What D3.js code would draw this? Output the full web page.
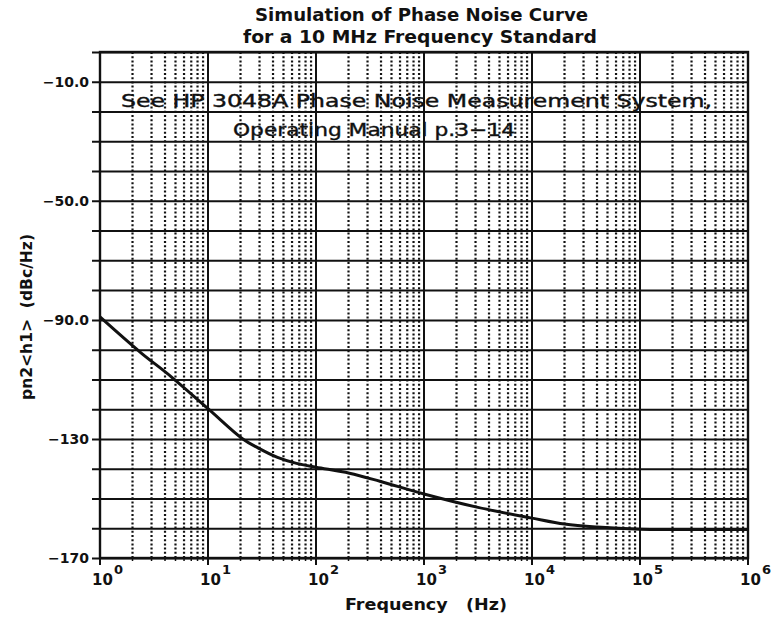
<!DOCTYPE html>
<html>
<head>
<meta charset="utf-8">
<script src="https://cdn.jsdelivr.net/npm/d3@7"></script>
<style>
  body { margin: 0; background: #fff; }
  svg text { font-family: "DejaVu Sans", sans-serif; font-weight: bold; fill: #111; }
  svg text.note { font-weight: normal; stroke: #111; stroke-width: 0.4; }
</style>
</head>
<body>
<div id="chart"></div>
<script>
// data
let freqs = [1, 2.35, 4.6, 10, 21, 29, 44, 66, 100, 204, 390, 1000, 3160, 10000, 20000, 40000, 100000, 1000000];
let noise = [-89, -100.8, -109.2, -119.8, -130, -133, -136.2, -138.2, -139.5, -141.5, -144.2, -148.5, -153, -156.6, -158.6, -159.6, -160.3, -160.4];

let yTickValues = [-10, -50, -90, -130, -170];
let yTickLabels = ["\u221210.0", "\u221250.0", "\u221290.0", "\u2212130", "\u2212170"];
let decades = [0, 1, 2, 3, 4, 5, 6];

let titleLines = ["Simulation of Phase Noise Curve", "for a 10 MHz Frequency Standard"];
let noteLines = ["See HP 3048A Phase Noise Measurement System,", "Operating Manual p.3\u221214"];

let svgWidth = 772;
let svgHeight = 621;
let margin = { top: 52, right: 24, bottom: 63, left: 100 };
let width = svgWidth - margin.left - margin.right;
let height = svgHeight - margin.top - margin.bottom;

let svg = d3.select("#chart")
  .append("svg")
  .attr("width", svgWidth)
  .attr("height", svgHeight);

let chartGroup = svg.append("g")
  .attr("transform", `translate(${margin.left}, ${margin.top})`);

let x = d3.scaleLog().domain([1, 1e6]).range([0, width]);
let y = d3.scaleLinear().domain([0, -170]).range([0, height]);

// minor (dotted) verticals at 2..9 in each decade
let minor = [];
decades.slice(0, -1).forEach(function(e) {
  for (let m = 2; m <= 9; m++) minor.push(m * Math.pow(10, e));
});

chartGroup.append("g")
  .selectAll("line")
  .data(minor)
  .enter()
  .append("line")
  .attr("x1", d => x(d))
  .attr("x2", d => x(d))
  .attr("y1", 0)
  .attr("y2", height)
  .attr("stroke", "#111")
  .attr("stroke-width", 2.2)
  .attr("stroke-dasharray", "2,2.2");

// horizontal grid every 10 dB, with outward ticks
let leftAxis = d3.axisLeft(y)
  .tickValues(d3.range(0, -171, -10))
  .tickSize(8)
  .tickFormat(d => {
    let i = yTickValues.indexOf(d);
    return i >= 0 ? yTickLabels[i] : "";
  });

let yAxisG = chartGroup.append("g").call(leftAxis);
yAxisG.select(".domain").remove();
yAxisG.selectAll(".tick line")
  .attr("stroke", "#111")
  .attr("stroke-width", 2)
  .attr("x2", width)
  .attr("x1", -8);
yAxisG.selectAll(".tick text")
  .attr("x", -11)
  .attr("font-size", 14)
  .attr("font-family", "DejaVu Sans")
  .attr("font-weight", "bold")
  .attr("fill", "#111");

// decade verticals
chartGroup.append("g")
  .selectAll("line")
  .data(decades)
  .enter()
  .append("line")
  .attr("x1", d => x(Math.pow(10, d)))
  .attr("x2", d => x(Math.pow(10, d)))
  .attr("y1", 0)
  .attr("y2", height + 7)
  .attr("stroke", "#111")
  .attr("stroke-width", 2);

// small ticks under bottom axis at minors
chartGroup.append("g")
  .selectAll("line")
  .data(minor)
  .enter()
  .append("line")
  .attr("x1", d => x(d))
  .attr("x2", d => x(d))
  .attr("y1", height)
  .attr("y2", height + 3)
  .attr("stroke", "#111")
  .attr("stroke-width", 1.5);

// frame
chartGroup.append("rect")
  .attr("width", width)
  .attr("height", height)
  .attr("fill", "none")
  .attr("stroke", "#111")
  .attr("stroke-width", 2.4);

// x tick labels 10^n
let xLab = chartGroup.append("g")
  .selectAll("text")
  .data(decades)
  .enter()
  .append("text")
  .attr("x", d => x(Math.pow(10, d)) - 8)
  .attr("y", height + 27)
  .attr("font-size", 15);
xLab.append("tspan").text("10");
xLab.append("tspan")
  .attr("dy", -11)
  .attr("dx", 1)
  .attr("font-size", 13)
  .text(d => d);

// the curve
let line = d3.line()
  .x(d => x(d[0]))
  .y(d => y(d[1]))
  .curve(d3.curveCatmullRom.alpha(0.5));

chartGroup.append("path")
  .datum(freqs.map((f, i) => [f, noise[i]]))
  .attr("d", line)
  .attr("fill", "none")
  .attr("stroke", "#111")
  .attr("stroke-width", 3);

// note inside plot
chartGroup.append("text")
  .attr("class", "note")
  .attr("x", 21)
  .attr("y", 55)
  .attr("font-size", 18)
  .attr("textLength", 591)
  .attr("lengthAdjust", "spacingAndGlyphs")
  .text(noteLines[0]);

chartGroup.append("text")
  .attr("class", "note")
  .attr("x", 133)
  .attr("y", 84)
  .attr("font-size", 18)
  .attr("textLength", 282)
  .attr("lengthAdjust", "spacingAndGlyphs")
  .text(noteLines[1]);

// title
svg.append("text")
  .attr("x", 255)
  .attr("y", 21)
  .attr("font-size", 17)
  .attr("textLength", 333)
  .attr("lengthAdjust", "spacingAndGlyphs")
  .text(titleLines[0]);

svg.append("text")
  .attr("x", 243)
  .attr("y", 43)
  .attr("font-size", 17)
  .attr("textLength", 354)
  .attr("lengthAdjust", "spacingAndGlyphs")
  .text(titleLines[1]);

// axis labels
svg.append("text")
  .attr("x", 345)
  .attr("y", 610)
  .attr("font-size", 15)
  .attr("textLength", 162)
  .attr("lengthAdjust", "spacingAndGlyphs")
  .text("Frequency\u00a0\u00a0\u00a0(Hz)");

svg.append("text")
  .attr("transform", "translate(32, 400) rotate(-90)")
  .attr("font-size", 15)
  .attr("textLength", 166)
  .attr("lengthAdjust", "spacingAndGlyphs")
  .text("pn2<h1>\u00a0\u00a0(dBc/Hz)");
</script>
</body>
</html>
